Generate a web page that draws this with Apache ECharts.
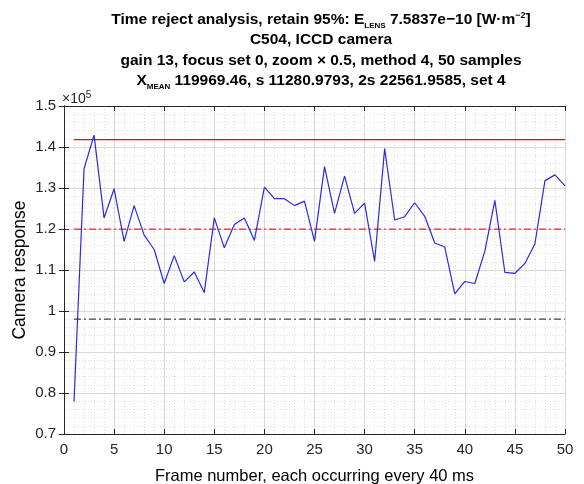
<!DOCTYPE html>
<html><head><meta charset="utf-8">
<script src="https://cdn.jsdelivr.net/npm/echarts@6/dist/echarts.min.js"></script>
<style>html,body{margin:0;padding:0;background:#fff}#c{width:584px;height:484px}</style>
</head><body><div id="c"></div>
<script>
const frames = [1,2,3,4,5,6,7,8,9,10,11,12,13,14,15,16,17,18,19,20,21,22,23,24,25,26,27,28,29,30,31,32,33,34,35,36,37,38,39,40,41,42,43,44,45,46,47,48,49,50];
const response = [77900,134700,142900,122700,129800,117000,125700,118500,115000,106700,113500,107100,109500,104500,122700,115400,121100,122700,117200,130200,127400,127400,125700,126800,117000,135200,123800,132900,123800,126300,112100,139600,122200,123000,126400,123100,116600,115600,104200,107200,106700,114600,127000,109400,109200,111600,116400,131800,133200,130500];
const upperLimit = 141800;
const meanLevel = 119969.46;
const lowerLimit = 98000;
const lineStart = 1, lineEnd = 50;
const yTicks = ['0.7','0.8','0.9','1','1.1','1.2','1.3','1.4','1.5'];

const FONT = "'Liberation Sans', Arial, sans-serif";
const chart = echarts.init(document.getElementById('c'), null, {renderer:'canvas'});
const pts = frames.map((f,i)=>[f,response[i]]);
const hline = v => [[lineStart,v],[lineEnd,v]];

const axisCommon = {
  axisLine:{show:true,lineStyle:{color:'#262626',width:1}},
  axisTick:{show:true,inside:true,length:5,lineStyle:{color:'#262626'}},
};
chart.setOption({
  animation:false,
  backgroundColor:'#fff',
  title:{
    left:316, top:4, textAlign:'center',
    text:'Time reject analysis, retain 95%: E{sub|LENS} 7.5837e\u221210 [W\u00b7m{sup|\u22122}]\nC504, ICCD camera\ngain 13, focus set 0, zoom \u00d7 0.5, method 4, 50 samples\nX{sub|MEAN} 119969.46, s 11280.9793, 2s 22561.9585, set 4',
    textStyle:{
      fontFamily:FONT,fontSize:15.5,fontWeight:'bold',color:'#000',lineHeight:20.5,
      rich:{
        sub:{fontFamily:FONT,fontSize:8,fontWeight:'bold',color:'#000',verticalAlign:'bottom',padding:[8,0,0,0],lineHeight:20.5},
        sup:{fontFamily:FONT,fontSize:9,fontWeight:'bold',color:'#000',padding:[0,0,8,0],lineHeight:20.5}
      }
    }
  },
  graphic:[{
    type:'text', left:62, top:90,
    style:{text:'\u00d710{s|5}', font:'14px '+FONT, fill:'#262626',
      rich:{s:{fontSize:10,fontFamily:FONT,fill:'#262626',padding:[0,0,8,0]}}}
  }],
  grid:{left:64,right:19,top:106,bottom:50,containLabel:false,outerBoundsMode:'none'},
  xAxis:[{
    type:'value',min:0,max:50,interval:5,
    ...axisCommon,
    axisLabel:{fontFamily:FONT,fontSize:15,color:'#262626',margin:8},
    name:'Frame number, each occurring every 40 ms',nameLocation:'middle',nameGap:34,
    nameTextStyle:{fontFamily:FONT,fontSize:16.5,color:'#000'},
    splitLine:{show:true,lineStyle:{color:'#d9d9d9',width:1}},
    minorTick:{show:false,splitNumber:5},
    minorSplitLine:{show:true,lineStyle:{color:'#dedede',type:[1,2],width:1}}
  },{
    type:'value',min:0,max:50,interval:5,position:'top',
    ...axisCommon,axisLabel:{show:false},splitLine:{show:false}
  }],
  yAxis:[{
    type:'value',min:70000,max:150000,interval:10000,
    ...axisCommon,
    axisLabel:{fontFamily:FONT,fontSize:15,color:'#262626',margin:8,
      formatter:v=>yTicks[Math.round((v-70000)/10000)]},
    name:'Camera response',nameLocation:'middle',nameGap:35,nameRotate:90,nameMoveOverlap:false,
    nameTextStyle:{fontFamily:FONT,fontSize:17.5,color:'#000'},
    splitLine:{show:true,lineStyle:{color:'#d9d9d9',width:1}},
    minorTick:{show:false,splitNumber:5},
    minorSplitLine:{show:true,lineStyle:{color:'#dedede',type:[1,2],width:1}}
  },{
    type:'value',min:70000,max:150000,interval:10000,position:'right',
    ...axisCommon,axisLabel:{show:false},splitLine:{show:false}
  }],
  series:[
    {type:'line',data:hline(upperLimit),symbol:'none',lineStyle:{color:'#ff0000',width:1.2},silent:true},
    {type:'line',data:hline(meanLevel),symbol:'none',lineStyle:{color:'#ff2020',width:1.2,type:[7,3,2,3]},silent:true},
    {type:'line',data:hline(lowerLimit),symbol:'none',lineStyle:{color:'#404040',width:1.2,type:[7,3,2,3]},silent:true},
    {type:'line',data:pts,symbol:'none',lineStyle:{color:'#2a2ae0',width:1.2},silent:true}
  ]
});
</script></body></html>
